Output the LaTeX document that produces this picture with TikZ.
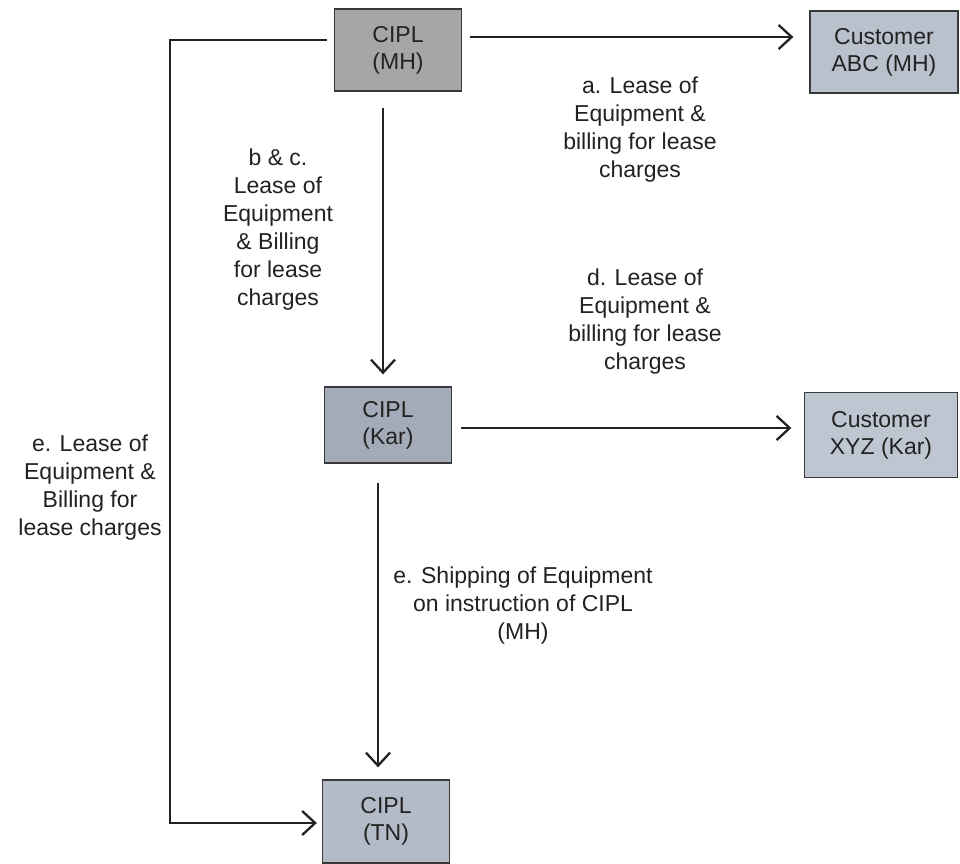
\documentclass[tikz,border=0pt]{standalone}
\usepackage{fontspec}
\setmainfont{Liberation Sans}
\usetikzlibrary{arrows.meta,calc}
\definecolor{boxMH}{HTML}{A6A6A8}
\definecolor{boxABC}{HTML}{B9C1CC}
\definecolor{boxKar}{HTML}{A3ABB9}
\definecolor{boxXYZ}{HTML}{BEC6D1}
\definecolor{boxTN}{HTML}{B3BBC8}
\definecolor{ink}{HTML}{222222}
\begin{document}
\begin{tikzpicture}[x=1pt,y=-1pt,
  box/.style={draw=ink!90, line width=1.3pt, minimum width=127pt, minimum height=82pt,
    inner sep=0pt, align=center, font=\fontsize{23}{27}\selectfont, text=ink},
  lbl/.style={align=center, font=\fontsize{23}{28}\selectfont, text=ink, inner sep=0pt},
  arr/.style={line width=2.3pt, draw=ink, -{Straight Barb[length=13pt,width=24pt,line width=2.3pt]}}]
\useasboundingbox (0,0) rectangle (960,863);
\fill[white] (0,0) rectangle (960,863);
% boxes
\node[box, fill=boxMH] (MH) at (398,50) {CIPL\\(MH)};
\node[box, fill=boxABC, minimum width=148pt] (ABC) at (884,52) {Customer\\ABC (MH)};
\node[box, fill=boxKar, minimum height=76pt] (Kar) at (388,425) {CIPL\\(Kar)};
\node[box, fill=boxXYZ, minimum width=153pt, minimum height=85pt] (XYZ) at (881,435) {Customer\\XYZ (Kar)};
\node[box, fill=boxTN, minimum height=83pt] (TN) at (386,821.5) {CIPL\\(TN)};
% labels
\node[lbl] (la) at (640,130) {a. Lease of\\Equipment \&\\billing for lease\\charges};
\node[lbl] (ld) at (645,322) {d. Lease of\\Equipment \&\\billing for lease\\charges};
\node[lbl] (lbc) at (278,230) {b \& c.\\Lease of\\Equipment\\\& Billing\\for lease\\charges};
\node[lbl] (le) at (90,488) {e. Lease of\\Equipment \&\\Billing for\\lease charges};
\node[lbl] (ls) at (523,606) {e. Shipping of Equipment\\on instruction of CIPL\\(MH)};
% connectors
\coordinate (eTop) at (170,40);
\coordinate (eBot) at (170,823);
\draw[arr] ($(MH.east)+(8,-13)$) -- ($(ABC.west)+(-16,-15)$);
\draw[arr] ($(MH.south)+(-15,16)$) -- ($(Kar.north)+(-5,-12)$);
\draw[arr] ($(Kar.east)+(9,3)$) -- ($(XYZ.west)+(-12.5,-7)$);
\draw[arr] ($(Kar.south)+(-10,19)$) -- ($(TN.north)+(-8,-12)$);
\draw[arr] ($(MH.west)+(-7,-10)$) -- (eTop) -- (eBot) -- ($(TN.west)+(-5,1.5)$);
\end{tikzpicture}
\end{document}
